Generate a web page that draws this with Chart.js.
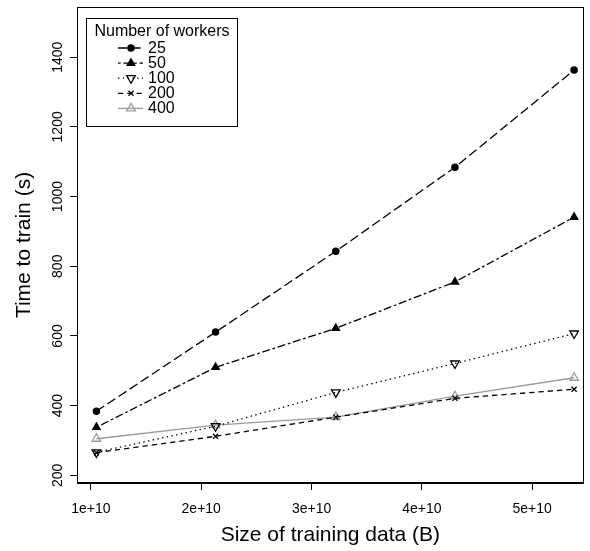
<!DOCTYPE html>
<html><head><meta charset="utf-8">
<script src="https://cdn.jsdelivr.net/npm/chart.js@4/dist/chart.umd.min.js"></script>
<style>html,body{margin:0;padding:0;background:#fff}#wrap{width:590px;height:551px}</style>
</head><body><div id="wrap"><canvas id="c" width="590" height="551"></canvas></div>
<script>
const sizes = [1.05e10, 2.13e10, 3.22e10, 4.30e10, 5.38e10];
const seriesNames = ['25', '50', '100', '200', '400'];
const t25 = [384, 611, 843, 1084, 1363];
const t50 = [338, 510, 622, 755, 941];
const t100 = [266, 341, 438, 521, 607];
const t200 = [265, 312, 367, 421, 447];
const t400 = [305, 344, 367, 427, 480];
const xTicks = [1e10, 2e10, 3e10, 4e10, 5e10];
const xTickLabels = ['1e+10', '2e+10', '3e+10', '4e+10', '5e+10'];
const yTicks = [200, 400, 600, 800, 1000, 1200, 1400];
const legendTitle = 'Number of workers';
const xTitle = 'Size of training data (B)';
const yTitle = 'Time to train (s)';

const FONT = '"Liberation Sans", Arial, Helvetica, sans-serif';
const GREY = '#9a9a9a';
const LW = 1.3;

const styles = [
  {color: '#000', dash: [9.3, 4], pointStyle: 'circle', radius: 3.1, rotation: 0, fill: '#000'},
  {color: '#000', dash: [2.7, 2.7, 8, 2.7], pointStyle: 'triangle', radius: 4.3, rotation: 0, fill: '#000'},
  {color: '#000', dash: [1.4, 3.4], pointStyle: 'triangle', radius: 5, rotation: 180, fill: 'rgba(255,255,255,0)'},
  {color: '#000', dash: [5.3, 4], pointStyle: 'crossRot', radius: 3.6, rotation: 0, fill: '#000'},
  {color: GREY, dash: [], pointStyle: 'triangle', radius: 5, rotation: 0, fill: 'rgba(255,255,255,0)'}
];
const seriesData = [t25, t50, t100, t200, t400];

const datasets = seriesData.map((vals, i) => {
  const s = styles[i];
  return {
    label: seriesNames[i],
    data: sizes.map((x, j) => ({x: x, y: vals[j]})),
    showLine: true,
    borderColor: s.color,
    borderWidth: LW,
    borderDash: s.dash,
    pointStyle: s.pointStyle,
    pointRadius: s.radius,
    pointHoverRadius: s.radius,
    pointRotation: s.rotation,
    pointBackgroundColor: s.fill,
    pointBorderColor: s.color,
    pointBorderWidth: LW,
    tension: 0,
    clip: false
  };
});

const boxPlugin = {
  id: 'rbox',
  afterDraw(chart) {
    const ctx = chart.ctx;
    const a = chart.chartArea;
    ctx.save();
    ctx.strokeStyle = '#000';
    ctx.lineWidth = 1;
    ctx.setLineDash([]);
    ctx.strokeRect(Math.round(a.left) + 0.5, Math.round(a.top) + 0.5,
      Math.round(a.right - a.left) - 1, Math.round(a.bottom - a.top) - 1);

    // legend
    const bx = 86.5, by = 18.5, bw = 151, bh = 108;
    ctx.fillStyle = '#fff';
    ctx.fillRect(bx, by, bw, bh);
    ctx.strokeRect(bx, by, bw, bh);
    ctx.font = '16px ' + FONT;
    ctx.fillStyle = '#000';
    ctx.textBaseline = 'middle';
    ctx.textAlign = 'center';
    ctx.fillText(legendTitle, bx + bw / 2, 32);
    ctx.textAlign = 'left';
    chart.data.datasets.forEach((ds, i) => {
      const y = 48 + i * 15.1;
      ctx.save();
      ctx.strokeStyle = ds.borderColor;
      ctx.lineWidth = ds.borderWidth;
      ctx.setLineDash(ds.borderDash);
      ctx.beginPath();
      ctx.moveTo(118, y);
      ctx.lineTo(143, y);
      ctx.stroke();
      ctx.setLineDash([]);
      ctx.fillStyle = ds.pointBackgroundColor;
      ctx.strokeStyle = ds.pointBorderColor;
      ctx.lineWidth = ds.pointBorderWidth;
      Chart.helpers.drawPoint(ctx, {pointStyle: ds.pointStyle, rotation: ds.pointRotation,
        radius: ds.pointRadius, borderWidth: ds.pointBorderWidth}, 131, y);
      ctx.restore();
      ctx.fillStyle = '#000';
      ctx.fillText(ds.label, 148, y + 0.5);
    });
    ctx.restore();
  }
};

new Chart(document.getElementById('c'), {
  type: 'scatter',
  data: {datasets: datasets},
  options: {
    responsive: false,
    animation: false,
    devicePixelRatio: 1,
    layout: {padding: {top: 7, right: 2, left: 0, bottom: 0}},
    plugins: {legend: {display: false}, tooltip: {enabled: false}},
    scales: {
      x: {
        type: 'linear',
        min: 0.874e10,
        max: 5.467e10,
        afterBuildTicks: s => { s.ticks = xTicks.map(v => ({value: v})); },
        afterFit: s => { s.height = 68; },
        ticks: {
          color: '#000',
          font: {family: FONT, size: 14},
          padding: 10.5,
          maxRotation: 0,
          minRotation: 0,
          callback: v => xTickLabels[xTicks.indexOf(v)]
        },
        grid: {display: true, drawOnChartArea: false, drawTicks: true, tickLength: 7, tickColor: '#000', tickWidth: 1},
        border: {display: true, color: '#000', width: 1},
        title: {display: true, text: xTitle, color: '#000', font: {family: FONT, size: 21}, padding: {top: 0, bottom: 3}}
      },
      y: {
        type: 'linear',
        min: 178,
        max: 1544,
        afterBuildTicks: s => { s.ticks = yTicks.map(v => ({value: v})); },
        afterFit: s => { s.width = 77; },
        ticks: {
          color: '#000',
          font: {family: FONT, size: 14},
          minRotation: 90,
          maxRotation: 90,
          crossAlign: 'center',
          padding: -3.5,
          callback: v => String(v)
        },
        grid: {display: true, drawOnChartArea: false, drawTicks: true, tickLength: 7, tickColor: '#000', tickWidth: 1},
        border: {display: true, color: '#000', width: 1},
        title: {display: true, text: yTitle, color: '#000', font: {family: FONT, size: 21}, padding: {top: 12, bottom: 0}}
      }
    }
  },
  plugins: [boxPlugin]
});
</script>
</body></html>
